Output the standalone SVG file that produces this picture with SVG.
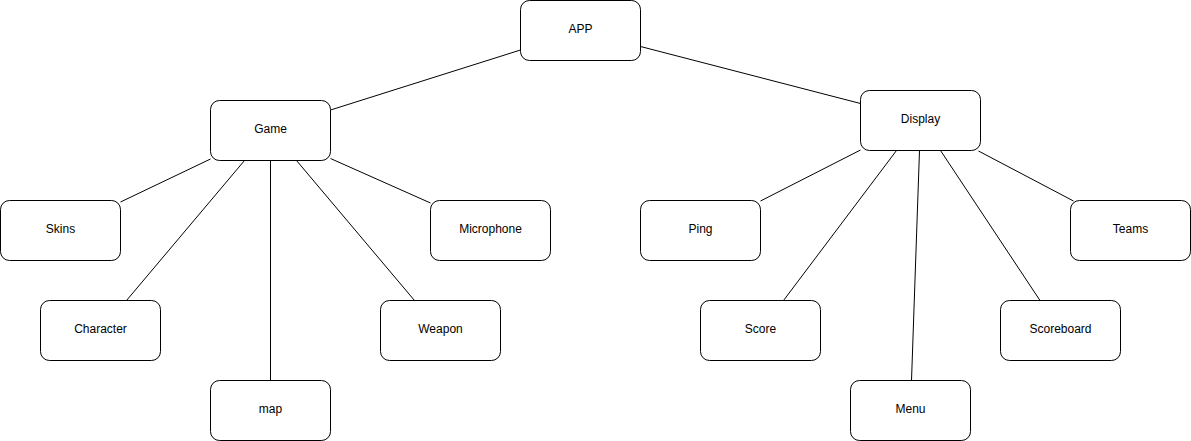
<svg xmlns="http://www.w3.org/2000/svg" width="1191" height="441" viewBox="0 0 1191 441">
<style>
.n rect{fill:#fff;stroke:#000;stroke-width:1}
.n text{font-family:"Liberation Sans",Arial,sans-serif;font-size:12px;fill:#000;text-anchor:middle;dominant-baseline:central}
#edges line{stroke:#000;stroke-width:1}
</style>
<rect width="1191" height="441" fill="#fff"/>
<g id="edges">
<line x1="520.5" y1="50" x2="330.5" y2="110"/>
<line x1="640.5" y1="46.5" x2="860.5" y2="103.5"/>
<line x1="210.5" y1="159" x2="120.5" y2="202"/>
<line x1="244.5" y1="160.5" x2="126.5" y2="300.5"/>
<line x1="270.5" y1="160.5" x2="270.5" y2="380.5"/>
<line x1="296.5" y1="160.5" x2="414.5" y2="300.5"/>
<line x1="330.5" y1="158.5" x2="430.5" y2="203"/>
<line x1="860.5" y1="150" x2="760.5" y2="201"/>
<line x1="896.5" y1="150.5" x2="783.5" y2="300.5"/>
<line x1="919.5" y1="150.5" x2="911.5" y2="380.5"/>
<line x1="940.5" y1="150.5" x2="1040" y2="300.5"/>
<line x1="978.5" y1="151" x2="1073.5" y2="201"/>
</g>
<g id="app" class="n"><rect x="520.5" y="0.5" width="120" height="60" rx="9"/><text x="580.5" y="29">APP</text></g>
<g id="game" class="n"><rect x="210.5" y="100.5" width="120" height="60" rx="9"/><text x="270.5" y="129">Game</text></g>
<g id="display" class="n"><rect x="860.5" y="90.5" width="120" height="60" rx="9"/><text x="920.5" y="119">Display</text></g>
<g id="skins" class="n"><rect x="0.5" y="200.5" width="120" height="60" rx="9"/><text x="60.5" y="229">Skins</text></g>
<g id="character" class="n"><rect x="40.5" y="300.5" width="120" height="60" rx="9"/><text x="100.5" y="329">Character</text></g>
<g id="map" class="n"><rect x="210.5" y="380.5" width="120" height="60" rx="9"/><text x="270.5" y="409">map</text></g>
<g id="weapon" class="n"><rect x="380.5" y="300.5" width="120" height="60" rx="9"/><text x="440.5" y="329">Weapon</text></g>
<g id="microphone" class="n"><rect x="430.5" y="200.5" width="120" height="60" rx="9"/><text x="490.5" y="229">Microphone</text></g>
<g id="ping" class="n"><rect x="640.5" y="200.5" width="120" height="60" rx="9"/><text x="700.5" y="229">Ping</text></g>
<g id="score" class="n"><rect x="700.5" y="300.5" width="120" height="60" rx="9"/><text x="760.5" y="329">Score</text></g>
<g id="menu" class="n"><rect x="850.5" y="380.5" width="120" height="60" rx="9"/><text x="910.5" y="409">Menu</text></g>
<g id="scoreboard" class="n"><rect x="1000.5" y="300.5" width="120" height="60" rx="9"/><text x="1060.5" y="329">Scoreboard</text></g>
<g id="teams" class="n"><rect x="1070.5" y="200.5" width="120" height="60" rx="9"/><text x="1130.5" y="229">Teams</text></g>
</svg>
